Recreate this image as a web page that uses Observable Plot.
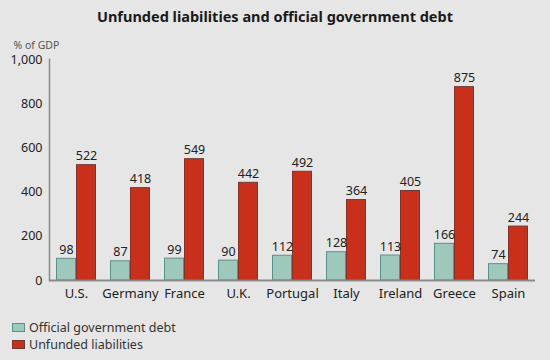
<!DOCTYPE html>
<html>
<head>
<meta charset="utf-8">
<script src="https://cdn.jsdelivr.net/npm/d3@7"></script>
<script src="https://cdn.jsdelivr.net/npm/@observablehq/plot@0.6"></script>
<style>
  html, body { margin: 0; padding: 0; background: #e6e6e6; }
  body { width: 550px; height: 360px; overflow: hidden; font-family: "Noto Sans", sans-serif; color: #222; }
  #title { height: 32px; line-height: 32px; text-align: center; font-weight: bold; font-size: 14.5px; color: #1a1a1a; }
  #legend { padding: 9px 0 0 12px; font-size: 12.5px; color: #333; }
  .item { display: flex; align-items: center; height: 17px; line-height: 15px; }
  .sw { width: 13px; height: 9px; margin-right: 4px; box-sizing: border-box; border: 1px solid; }
</style>
</head>
<body>
<div id="title">Unfunded liabilities and official government debt</div>
<div id="chart"></div>
<div id="legend"></div>
<script>
const countries = ["U.S.", "Germany", "France", "U.K.", "Portugal", "Italy", "Ireland", "Greece", "Spain"];
const seriesNames = ["Official government debt", "Unfunded liabilities"];
const debt = [98, 87, 99, 90, 112, 128, 113, 166, 74];
const unfunded = [522, 418, 549, 442, 492, 364, 405, 875, 244];
const yTicks = [0, 200, 400, 600, 800, 1000];
const fills = ["#9dc8bb", "#c9301c"];
const strokes = ["#5f8f8b", "#6e3a34"];

const data = [];
countries.forEach((c, i) => {
  data.push({country: c, series: seriesNames[0], value: debt[i]});
  data.push({country: c, series: seriesNames[1], value: unfunded[i]});
});

const chart = Plot.plot({
  width: 550,
  height: 278,
  marginTop: 27,
  marginBottom: 30,
  marginLeft: 48,
  marginRight: 14,
  style: {background: "transparent", fontFamily: "Noto Sans, sans-serif", color: "#333"},
  fx: {domain: countries, padding: 0, label: null},
  x: {domain: seriesNames, paddingInner: 0, paddingOuter: 0.29, axis: null},
  y: {domain: [0, 1000]},
  color: {domain: seriesNames, range: fills},
  marks: [
    Plot.barY(data, {fx: "country", x: "series", y: "value", fill: "series",
      stroke: d => d.series === seriesNames[0] ? strokes[0] : strokes[1], strokeWidth: 1, insetLeft: 0.5, insetRight: 0.5}),
    Plot.text(data, {fx: "country", x: "series", y: "value", text: d => String(d.value),
      dy: -9, fontSize: 12.5, fill: "#222"}),
    Plot.ruleY([0], {stroke: "#8a8a8a", strokeWidth: 2}),
    Plot.frame({anchor: "left", stroke: "#8a8a8a", strokeWidth: 1.5, facet: "super"}),
    Plot.axisY({ticks: yTicks, tickFormat: d3.format(","), tickSize: 0, tickPadding: 7, fontSize: 12.5, label: null, color: "#222"}),
    Plot.axisFx({anchor: "bottom", tickSize: 0, tickPadding: 8, fontSize: 13, label: null, color: "#222"}),
    Plot.text(["% of GDP"], {frameAnchor: "top-left", dx: -36, dy: -18, fontSize: 10.5, fill: "#555", textAnchor: "start", facet: "super"})
  ]
});
document.getElementById("chart").appendChild(chart);

const legend = document.getElementById("legend");
seriesNames.forEach((s, i) => {
  const row = document.createElement("div");
  row.className = "item";
  const sw = document.createElement("span");
  sw.className = "sw";
  sw.style.background = fills[i];
  sw.style.borderColor = strokes[i];
  row.appendChild(sw);
  const t = document.createElement("span");
  t.textContent = s;
  row.appendChild(t);
  legend.appendChild(row);
});
</script>
</body>
</html>
